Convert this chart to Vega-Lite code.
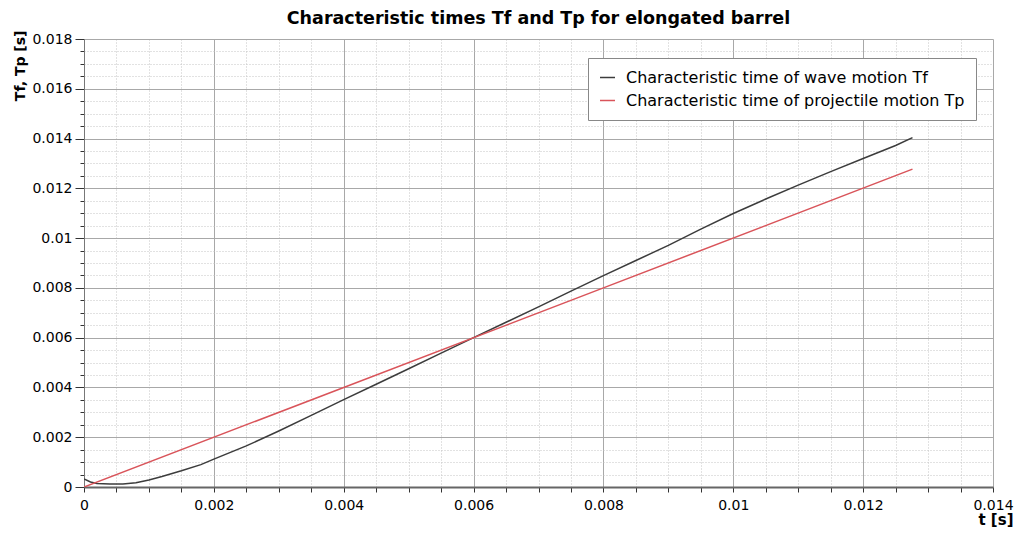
{
  "$schema": "https://vega.github.io/schema/vega-lite/v6.json",
  "width": 909,
  "height": 448,
  "autosize": "none",
  "padding": {"left": 84, "top": 39, "right": 24, "bottom": 46},
  "background": "white",
  "title": {
    "text": "Characteristic times Tf and Tp for elongated barrel",
    "font": "DejaVu Sans",
    "fontSize": 17.5,
    "fontWeight": "bold",
    "color": "#000000",
    "anchor": "middle",
    "offset": 3
  },
  "config": {
    "view": {"stroke": null},
    "font": "DejaVu Sans"
  },
  "data": {
    "values": [
      {"t": 0, "T": 0.00032, "series": "Characteristic time of wave motion Tf"},
      {"t": 0.0001, "T": 0.0002, "series": "Characteristic time of wave motion Tf"},
      {"t": 0.0002, "T": 0.00014, "series": "Characteristic time of wave motion Tf"},
      {"t": 0.0004, "T": 0.00012, "series": "Characteristic time of wave motion Tf"},
      {"t": 0.0006, "T": 0.00012, "series": "Characteristic time of wave motion Tf"},
      {"t": 0.0008, "T": 0.00017, "series": "Characteristic time of wave motion Tf"},
      {"t": 0.001, "T": 0.00028, "series": "Characteristic time of wave motion Tf"},
      {"t": 0.0012, "T": 0.00042, "series": "Characteristic time of wave motion Tf"},
      {"t": 0.0015, "T": 0.00065, "series": "Characteristic time of wave motion Tf"},
      {"t": 0.0018, "T": 0.0009, "series": "Characteristic time of wave motion Tf"},
      {"t": 0.002, "T": 0.00112, "series": "Characteristic time of wave motion Tf"},
      {"t": 0.0025, "T": 0.00165, "series": "Characteristic time of wave motion Tf"},
      {"t": 0.003, "T": 0.00225, "series": "Characteristic time of wave motion Tf"},
      {"t": 0.0035, "T": 0.00288, "series": "Characteristic time of wave motion Tf"},
      {"t": 0.004, "T": 0.00351, "series": "Characteristic time of wave motion Tf"},
      {"t": 0.0045, "T": 0.00413, "series": "Characteristic time of wave motion Tf"},
      {"t": 0.005, "T": 0.00475, "series": "Characteristic time of wave motion Tf"},
      {"t": 0.0055, "T": 0.00538, "series": "Characteristic time of wave motion Tf"},
      {"t": 0.006, "T": 0.006, "series": "Characteristic time of wave motion Tf"},
      {"t": 0.0065, "T": 0.00662, "series": "Characteristic time of wave motion Tf"},
      {"t": 0.007, "T": 0.00724, "series": "Characteristic time of wave motion Tf"},
      {"t": 0.0075, "T": 0.00787, "series": "Characteristic time of wave motion Tf"},
      {"t": 0.008, "T": 0.00849, "series": "Characteristic time of wave motion Tf"},
      {"t": 0.0085, "T": 0.0091, "series": "Characteristic time of wave motion Tf"},
      {"t": 0.009, "T": 0.00971, "series": "Characteristic time of wave motion Tf"},
      {"t": 0.0095, "T": 0.01036, "series": "Characteristic time of wave motion Tf"},
      {"t": 0.01, "T": 0.01099, "series": "Characteristic time of wave motion Tf"},
      {"t": 0.0105, "T": 0.01157, "series": "Characteristic time of wave motion Tf"},
      {"t": 0.011, "T": 0.01213, "series": "Characteristic time of wave motion Tf"},
      {"t": 0.0115, "T": 0.01267, "series": "Characteristic time of wave motion Tf"},
      {"t": 0.012, "T": 0.0132, "series": "Characteristic time of wave motion Tf"},
      {"t": 0.0125, "T": 0.01372, "series": "Characteristic time of wave motion Tf"},
      {"t": 0.01276, "T": 0.01404, "series": "Characteristic time of wave motion Tf"},
      {"t": 0, "T": 0, "series": "Characteristic time of projectile motion Tp"},
      {"t": 0.004, "T": 0.004, "series": "Characteristic time of projectile motion Tp"},
      {"t": 0.008, "T": 0.008, "series": "Characteristic time of projectile motion Tp"},
      {"t": 0.01276, "T": 0.01277, "series": "Characteristic time of projectile motion Tp"}
    ]
  },
  "mark": {"type": "line", "strokeWidth": 1.5, "clip": true},
  "encoding": {
    "x": {
      "field": "t",
      "type": "quantitative",
      "scale": {"domain": [0, 0.014], "nice": false, "zero": false},
      "axis": {
        "title": "t [s]",
        "titleFont": "DejaVu Sans",
        "titleFontSize": 15,
        "titleFontWeight": "bold",
        "titleColor": "#000000",
        "titleAnchor": "end",
        "titleAlign": "right",
        "titleX": 929,
        "titlePadding": 0,
        "values": [0, 0.0005, 0.001, 0.0015, 0.002, 0.0025, 0.003, 0.0035, 0.004, 0.0045, 0.005, 0.0055, 0.006, 0.0065, 0.007, 0.0075, 0.008, 0.0085, 0.009, 0.0095, 0.01, 0.0105, 0.011, 0.0115, 0.012, 0.0125, 0.013, 0.0135, 0.014],
        "labelExpr": "abs(datum.value/0.002 - round(datum.value/0.002)) < 1e-6 ? format(datum.value, '~g') : ''",
        "labelFont": "DejaVu Sans",
        "labelFontSize": 14,
        "labelColor": "#000000",
        "labelPadding": 6,
        "labelFlush": false,
        "labelOverlap": false,
        "tickColor": "#333333",
        "tickSize": 5,
        "domainColor": "#666666",
        "domainWidth": 2,
        "grid": true,
        "gridColor": {"condition": {"test": "abs(datum.value/0.002 - round(datum.value/0.002)) < 1e-6", "value": "#a8a8a8"}, "value": "#c4c4c4"},
        "gridDash": {"condition": {"test": "abs(datum.value/0.002 - round(datum.value/0.002)) < 1e-6", "value": []}, "value": [1, 2]},
        "gridWidth": 1
      }
    },
    "y": {
      "field": "T",
      "type": "quantitative",
      "scale": {"domain": [0, 0.018], "nice": false, "zero": false},
      "axis": {
        "title": "Tf, Tp [s]",
        "titleFont": "DejaVu Sans",
        "titleFontSize": 14,
        "titleFontWeight": "bold",
        "titleColor": "#000000",
        "titleAnchor": "end",
        "titleY": -9,
        "titlePadding": 4,
        "values": [0, 0.0005, 0.001, 0.0015, 0.002, 0.0025, 0.003, 0.0035, 0.004, 0.0045, 0.005, 0.0055, 0.006, 0.0065, 0.007, 0.0075, 0.008, 0.0085, 0.009, 0.0095, 0.01, 0.0105, 0.011, 0.0115, 0.012, 0.0125, 0.013, 0.0135, 0.014, 0.0145, 0.015, 0.0155, 0.016, 0.0165, 0.017, 0.0175, 0.018],
        "labelExpr": "abs(datum.value/0.002 - round(datum.value/0.002)) < 1e-6 ? format(datum.value, '~g') : ''",
        "labelFont": "DejaVu Sans",
        "labelFontSize": 14,
        "labelColor": "#000000",
        "labelPadding": 3,
        "labelFlush": false,
        "labelOverlap": false,
        "tickColor": "#333333",
        "tickSize": {"condition": {"test": "abs(datum.value/0.002 - round(datum.value/0.002)) < 1e-6", "value": 9}, "value": 4},
        "domainColor": "#777777",
        "domainWidth": 1,
        "grid": true,
        "gridColor": {"condition": {"test": "abs(datum.value/0.002 - round(datum.value/0.002)) < 1e-6", "value": "#a8a8a8"}, "value": "#c4c4c4"},
        "gridDash": {"condition": {"test": "abs(datum.value/0.002 - round(datum.value/0.002)) < 1e-6", "value": []}, "value": [1, 2]},
        "gridWidth": 1
      }
    },
    "color": {
      "field": "series",
      "type": "nominal",
      "sort": ["Characteristic time of wave motion Tf", "Characteristic time of projectile motion Tp"],
      "scale": {
        "domain": ["Characteristic time of wave motion Tf", "Characteristic time of projectile motion Tp"],
        "range": ["#3c3c3c", "#d9545a"]
      },
      "legend": {
        "title": null,
        "orient": "none",
        "legendX": 504,
        "legendY": 19,
        "direction": "vertical",
        "symbolType": "stroke",
        "symbolSize": 225,
        "symbolStrokeWidth": 1.5,
        "labelFont": "DejaVu Sans",
        "labelFontSize": 16,
        "labelOffset": 10,
        "labelColor": "#000000",
        "labelLimit": 500,
        "rowPadding": 6,
        "padding": 11,
        "fillColor": "white",
        "strokeColor": "#888888",
        "cornerRadius": 0
      }
    }
  }
}
